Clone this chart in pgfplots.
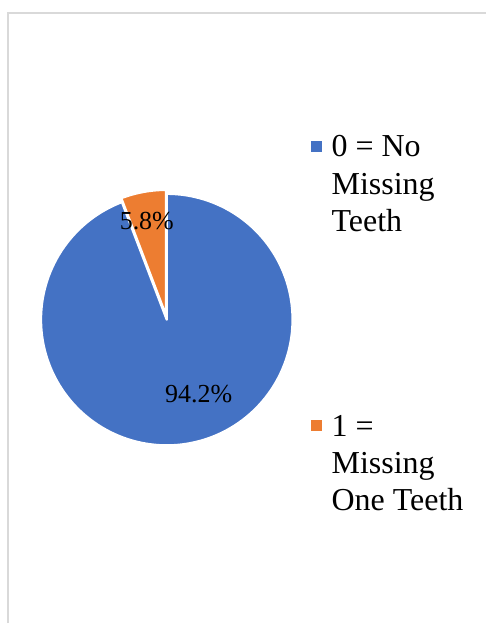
\documentclass[border=0pt]{standalone}
\usepackage{pgfplots}
\pgfplotsset{compat=1.18}
\usepackage{pgfplotstable}
\usepackage{fontspec}
\setmainfont{Liberation Serif}
\definecolor{pieblue}{HTML}{4472C4}
\definecolor{pieorange}{HTML}{ED7D31}
\definecolor{bordergray}{HTML}{D9D9D9}

\pgfplotstableread{
share
94.2
5.8
}\piedata

\begin{document}
\begin{tikzpicture}
\pgfplotstablegetelem{0}{share}\of\piedata \let\va\pgfplotsretval
\pgfplotstablegetelem{1}{share}\of\piedata \let\vb\pgfplotsretval
\pgfmathsetmacro\aMid{90+3.6*\vb}
\begin{axis}[
  x=0.75pt, y=0.75pt,
  xmin=0, xmax=487, ymin=0, ymax=624,
  hide axis, clip=false,
  legend style={draw=none, fill=none, at={(0.630,0.787)}, anchor=north west,
    font=\fontsize{24}{28}\selectfont,
    nodes={align=left, inner sep=0pt},
    row sep=136.5pt, column sep=7.5pt},
  legend cell align=left,
  legend image code/.code={\fill[#1, draw=none] (0pt,24.5pt) rectangle (8.25pt,32.75pt);},
]
\path (axis cs:0,0) rectangle (axis cs:487,624);
\addplot[fill=pieblue, draw=white, line width=1.8pt, line join=round, domain=\aMid:450, samples=160]
  ({167+126*cos(x)}, {304+126*sin(x)}) -- (axis cs:167,304) -- cycle;
\addlegendentry{0 = No\\Missing\\Teeth}
\addplot[fill=pieorange, draw=white, line width=1.8pt, line join=round, domain=90:\aMid, samples=30]
  ({166.3+126*cos(x)}, {307.9+126*sin(x)}) -- (axis cs:166.3,307.9) -- cycle;
\addlegendentry{1 =\\Missing\\One Teeth}
\addplot[draw=none, mark=none, forget plot, nodes near coords, point meta=explicit symbolic,
  nodes near coords style={anchor=center, text=black, font=\fontsize{19.5}{23}\selectfont}]
  coordinates {(147,403)[5.8\%] (199,229)[94.2\%]};
\draw[bordergray, line width=1.2pt] (axis cs:8,0) -- (axis cs:8,611) -- (axis cs:487,611);
\end{axis}
\end{tikzpicture}
\end{document}
